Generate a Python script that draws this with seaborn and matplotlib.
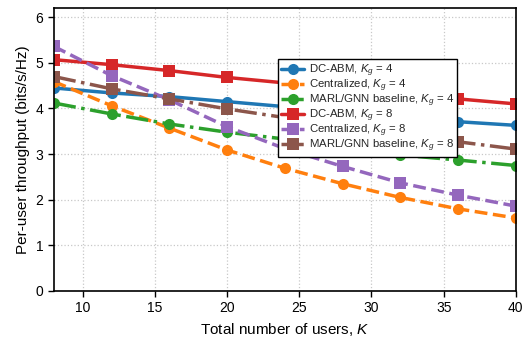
import matplotlib
matplotlib.use("Agg")
import matplotlib.pyplot as plt
import seaborn as sns
import pandas as pd

K = [8, 12, 16, 20, 24, 28, 32, 36, 40]
dcabm_4 = [4.45, 4.34, 4.26, 4.15, 4.04, 3.93, 3.82, 3.71, 3.63]
central_4 = [4.59, 4.06, 3.57, 3.09, 2.69, 2.35, 2.05, 1.80, 1.60]
marl_4 = [4.12, 3.88, 3.66, 3.48, 3.33, 3.15, 2.98, 2.87, 2.75]
dcabm_8 = [5.07, 4.96, 4.83, 4.68, 4.56, 4.44, 4.32, 4.21, 4.10]
central_8 = [5.36, 4.72, 4.19, 3.60, 3.12, 2.73, 2.37, 2.10, 1.86]
marl_8 = [4.70, 4.43, 4.21, 3.99, 3.80, 3.60, 3.43, 3.27, 3.11]

labels = [r"DC-ABM, $K_g$ = 4", r"Centralized, $K_g$ = 4", r"MARL/GNN baseline, $K_g$ = 4",
          r"DC-ABM, $K_g$ = 8", r"Centralized, $K_g$ = 8", r"MARL/GNN baseline, $K_g$ = 8"]
series = [dcabm_4, central_4, marl_4, dcabm_8, central_8, marl_8]
colors = ["#1f77b4", "#ff7f0e", "#2ca02c", "#d62728", "#9467bd", "#8c564b"]
styles = ["-", "--", "-.", "-", "--", "-."]
markers = ["o", "o", "o", "s", "s", "s"]

sns.set_theme(style="ticks")
plt.rcParams["font.family"] = ["Liberation Sans", "DejaVu Sans"]
plt.rcParams["mathtext.fontset"] = "custom"
plt.rcParams["mathtext.it"] = "Liberation Sans:italic"
plt.rcParams["mathtext.rm"] = "Liberation Sans"

fig = plt.figure(figsize=(5.28, 3.37), dpi=100)
ax = fig.add_axes([0.102, 0.1365, 0.875, 0.8395])

for y, lab, c, ls, m in zip(series, labels, colors, styles, markers):
    df = pd.DataFrame({"K": K, "v": y})
    sns.lineplot(data=df, x="K", y="v", ax=ax, color=c, marker=m,
                 markersize=8, linewidth=2.5, markeredgewidth=0, label=lab)

for line, ls in zip(ax.get_lines(), styles):
    line.set_linestyle(ls)

ax.set_xlim(8, 40)
ax.set_ylim(0, 6.2)
ax.set_xticks([10, 15, 20, 25, 30, 35, 40])
ax.set_yticks([0, 1, 2, 3, 4, 5, 6])
ax.grid(True, linestyle=":", color="#c8c8c8", linewidth=0.9)
for s in ax.spines.values():
    s.set_color("black")
    s.set_linewidth(1.2)
ax.tick_params(labelsize=10, colors="black", length=4, width=1)
ax.set_xlabel(r"Total number of users, $K$", fontsize=11, color="black")
ax.set_ylabel("Per-user throughput (bits/s/Hz)", fontsize=11, color="black")

leg = ax.legend(loc="upper left", bbox_to_anchor=(0.485, 0.82), borderaxespad=0,
                fontsize=8.2, frameon=True, framealpha=1, edgecolor="black",
                fancybox=False, borderpad=0.3, labelspacing=-0.12,
                handlelength=2.0, handletextpad=0.4)
leg.get_frame().set_linewidth(1.0)

fig.savefig("out.png", dpi=100)
